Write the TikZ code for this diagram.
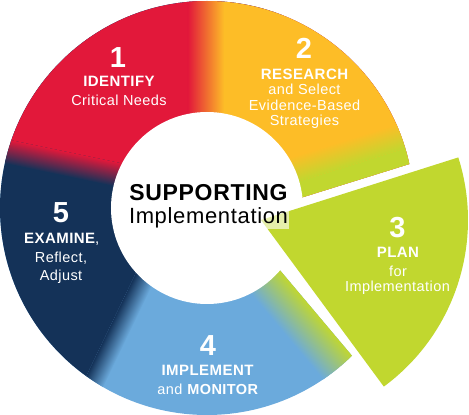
\documentclass[tikz,border=0pt]{standalone}
\usepackage{fontspec}
\setmainfont{Liberation Sans}[LetterSpace=3]

\begin{document}
\begin{tikzpicture}[x=1pt, y=1pt]
    % Define custom colors
    \definecolor{idred}{HTML}{E2183A}
    \definecolor{midorange}{HTML}{F7941E}
    \definecolor{resgold}{HTML}{FDBD27}
    \definecolor{planlime}{HTML}{C1D72F}
    \definecolor{implblue}{HTML}{6BAADC}
    \definecolor{examnavy}{HTML}{143258}

    \tikzset{
        stepnum/.style={text=white, anchor=base, inner sep=0pt, font=\fontsize{29}{30}\selectfont\bfseries},
        stephead/.style={text=white, anchor=base, inner sep=0pt, font=\fontsize{15}{17}\selectfont\bfseries},
        stepsub/.style={text=white, anchor=base, inner sep=0pt, font=\fontsize{14.5}{17}\selectfont}
    }

    % Canvas
    \useasboundingbox (-207,-207) rectangle (262,208);

    % Ring with steps 1, 2, 4 and 5
    \begin{scope}
        \clip (0,0) circle (207);
        \clip (29,-10) -- (601.8,168.4) -- (-600,600) -- (-600,-600) -- (415.6,-468.9) -- cycle;

        % Blue base
        \fill[implblue] (-207,-207) rectangle (207,207);

        % Blue into lime near the cut
        \begin{scope}
            \clip (0,0) -- (-20:300) -- (-90:300) -- cycle;
            \begin{scope}[transform canvas={shift={(75,-64)}, rotate=-49.9}]
                \shade[bottom color=implblue, top color=planlime] (-300,-38) rectangle (300,0);
            \end{scope}
        \end{scope}

        % Navy, blending into blue
        \begin{scope}[transform canvas={shift={(-88,-123)}, rotate=64.3}]
            \shade[bottom color=implblue, top color=examnavy] (-400,-10) rectangle (400,10);
            \fill[examnavy] (-400,10) rectangle (400,600);
        \end{scope}

        % Red, blending into navy
        \begin{scope}[transform canvas={shift={(-150,46)}, rotate=-11.8}]
            \shade[bottom color=examnavy, top color=idred] (-400,-12) rectangle (400,12);
            \fill[idred] (-400,12) rectangle (400,600);
        \end{scope}

        % Gold, blending into red and lime
        \begin{scope}
            \clip (-19,-20) rectangle (300,300);
            \shade[left color=idred, middle color=midorange, right color=resgold] (-19,-20) rectangle (17,300);
            \fill[resgold] (17,-20) rectangle (300,300);
            \begin{scope}[transform canvas={shift={(96,11)}, rotate=17.3}]
                \shade[bottom color=planlime, top color=resgold] (-300,16) rectangle (300,42);
                \fill[planlime] (-300,-100) rectangle (300,16);
            \end{scope}
        \end{scope}
    \end{scope}

    % Hole
    \fill[white] (0,0) circle (96);

    % Step 3, pulled out
    \fill[planlime] (54,-12) -- ++(-53.6:207) arc[start angle=-53.6, end angle=17.6, radius=207] -- cycle;

    % Centre title
    \node[anchor=base, inner sep=0pt, font=\fontsize{23}{24}\selectfont\bfseries] (title) at (1.5,7.5) {SUPPORTING};
    \node[anchor=base, inner sep=1pt, fill=white, fill opacity=0.6, text opacity=1,
          font=\fontsize{22}{24}\selectfont] (subtitle) at (1.5,-15.5) {Implementation};

    % Step 1
    \node[stepnum] (num1) at (-89,140) {1};
    \node[stephead] (head1) at (-88,121) {IDENTIFY};
    \node[stepsub] (sub1) at (-88,102) {Critical Needs};

    % Step 2
    \node[stepnum] (num2) at (97,149) {2};
    \node[stephead] (head2) at (97.5,128) {RESEARCH};
    \node[stepsub] (sub2a) at (97.5,113.5) {and Select};
    \node[stepsub] (sub2b) at (97.5,97) {Evidence-Based};
    \node[stepsub] (sub2c) at (97.5,82.5) {Strategies};

    % Step 3
    \node[stepnum] (num3) at (190.5,-30) {3};
    \node[stephead] (head3) at (191,-50) {PLAN};
    \node[stepsub] (sub3a) at (191,-68.5) {for};
    \node[stepsub] (sub3b) at (190.5,-84) {Implementation};

    % Step 4
    \node[stepnum] (num4) at (1,-147) {4};
    \node[stephead] (head4) at (0.5,-167) {IMPLEMENT};
    \node[stepsub] (sub4) at (1,-186) {and \textbf{MONITOR}};

    % Step 5
    \node[stepnum] (num5) at (-146,-15) {5};
    \node[stephead] (head5) at (-145,-36) {EXAMINE\textmd{,}};
    \node[stepsub] (sub5a) at (-146,-55) {Reflect,};
    \node[stepsub] (sub5b) at (-146,-73) {Adjust};
\end{tikzpicture}
\end{document}
